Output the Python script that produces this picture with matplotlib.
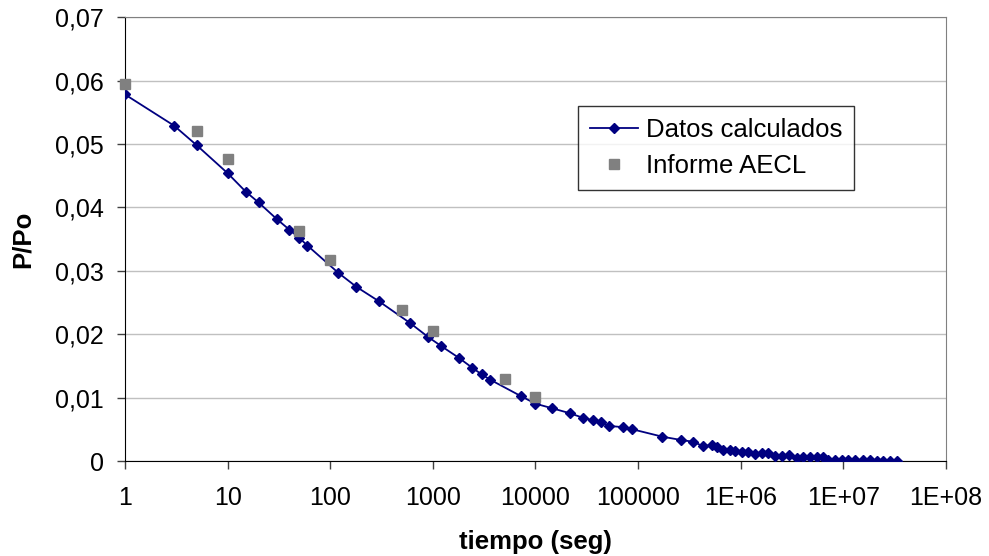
import numpy as np
import matplotlib.pyplot as plt
from matplotlib.ticker import FixedLocator, NullLocator

plt.rcParams['font.family'] = ['Liberation Sans', 'DejaVu Sans']

# datos calculados (tiempo en seg, P/Po)
t_calc = [1, 3, 5, 10, 15, 20, 30, 40, 50, 60, 120, 180, 300, 600, 900,
          1200, 1800, 2400, 3000, 3600, 7200, 10000, 14400, 21600, 28800,
          36000, 43200, 52000, 72000, 86400, 172800, 259200, 345600,
          4.3e5, 5.26e5, 5.89e5, 6.73e5, 7.88e5, 8.82e5, 1.03e6, 1.18e6,
          1.38e6, 1.62e6, 1.85e6, 2.16e6, 2.53e6, 2.96e6, 3.55e6, 4.06e6,
          4.75e6, 5.56e6, 6.35e6, 7.11e6, 8.32e6, 9.73e6, 1.11e7, 1.30e7,
          1.56e7, 1.82e7, 2.13e7, 2.44e7, 2.86e7, 3.34e7]
p_calc = [0.0578, 0.0529, 0.0498, 0.0454, 0.0425, 0.0408, 0.0382, 0.0365,
          0.0352, 0.0340, 0.0297, 0.0275, 0.0252, 0.0218, 0.0196, 0.0182,
          0.0163, 0.0148, 0.0137, 0.0129, 0.0103, 0.0091, 0.0084, 0.0076,
          0.0069, 0.0065, 0.0062, 0.0056, 0.0054, 0.0051, 0.0039, 0.0034,
          0.0031, 0.0024, 0.0026, 0.0023, 0.0018, 0.0018, 0.0016, 0.0015,
          0.0015, 0.0012, 0.0013, 0.0013, 0.0009, 0.0009, 0.0010, 0.0006,
          0.0007, 0.0007, 0.0007, 0.0007, 0.0002, 0.0002, 0.0002, 0.0002,
          0.0002, 0.0002, 0.0002, 0.0, 0.0, 0.0, 0.0]

# informe AECL
t_aecl = [1, 5, 10, 50, 100, 500, 1000, 5000, 10000]
p_aecl = [0.0595, 0.0521, 0.0477, 0.0363, 0.0318, 0.0239, 0.0206, 0.0130, 0.0102]

x_ticks = [1, 10, 100, 1000, 10000, 1e5, 1e6, 1e7, 1e8]
x_labels = ['1', '10', '100', '1000', '10000', '100000', '1E+06', '1E+07', '1E+08']
y_ticks = [0, 0.01, 0.02, 0.03, 0.04, 0.05, 0.06, 0.07]
y_labels = ['0', '0,01', '0,02', '0,03', '0,04', '0,05', '0,06', '0,07']

fig = plt.figure(figsize=(9.89, 5.56), dpi=100)
ax = fig.add_axes([0.1264, 0.170, 0.8301, 0.7994])

ax.plot(t_calc, p_calc, '-', color='#000080', lw=1.3, marker='D', ms=5.5,
        label='Datos calculados', zorder=3)
ax.plot(t_aecl, p_aecl, 's', color='#808080', ms=7.5, label='Informe AECL',
        zorder=4, clip_on=False)

ax.set_xscale('log')
ax.set_xlim(1, 1e8)
ax.set_ylim(0, 0.07)
ax.xaxis.set_major_locator(FixedLocator(x_ticks))
ax.xaxis.set_minor_locator(NullLocator())
ax.set_xticklabels(x_labels)
ax.set_yticks(y_ticks)
ax.set_yticklabels(y_labels)
ax.tick_params(labelsize=18, direction='out', length=6, width=1, color='#404040')
ax.tick_params(axis='x', pad=12)
ax.tick_params(axis='y', pad=9)

ax.grid(axis='y', color='#c0c0c0', lw=1)
ax.set_axisbelow(True)
for s in ['top', 'right']:
    ax.spines[s].set_color('#808080')
for s in ['left', 'bottom']:
    ax.spines[s].set_color('black')

ax.set_xlabel('tiempo (seg)', fontsize=18.5, fontweight='bold', labelpad=14)
ax.set_ylabel('P/Po', fontsize=18.5, fontweight='bold', labelpad=15)

leg = ax.legend(loc='upper left', bbox_to_anchor=(0.5518, 0.7998), fontsize=18.5,
                frameon=True, fancybox=False, edgecolor='black',
                borderpad=0.45, borderaxespad=0, handlelength=1.9,
                handletextpad=0.3, labelspacing=0.5)
leg.get_frame().set_linewidth(1)

fig.savefig('out.png', dpi=100)
